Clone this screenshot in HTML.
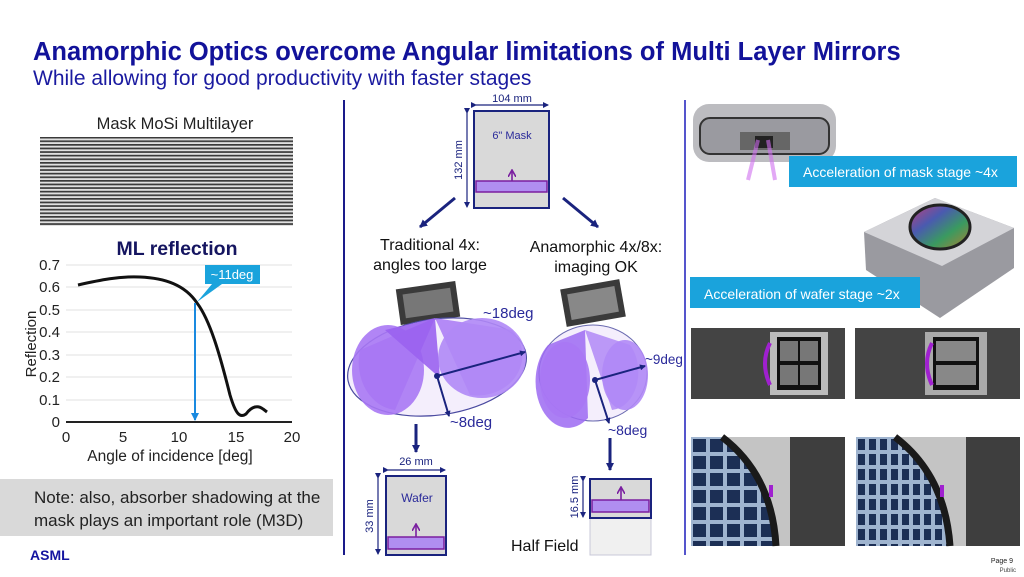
<!DOCTYPE html>
<html><head><meta charset="utf-8"><style>
html,body{margin:0;padding:0;background:#fff;}
svg{display:block;font-family:"Liberation Sans",Arial,sans-serif;}
</style></head><body>
<svg width="1024" height="577" viewBox="0 0 1024 577" xmlns="http://www.w3.org/2000/svg">
<defs>
<pattern id="stripes" width="4" height="3.6" patternUnits="userSpaceOnUse">
<rect width="4" height="3.6" fill="#e0e0e0"/><rect y="0" width="4" height="1.7" fill="#3a3a3a"/>
</pattern>
<pattern id="grid1" x="691" y="437" width="17" height="17" patternUnits="userSpaceOnUse">
<rect width="17" height="17" fill="#9fb4cf"/><rect x="2" y="2" width="13" height="13" fill="#1c2f55"/>
</pattern>
<pattern id="grid2" x="856" y="437" width="11" height="15" patternUnits="userSpaceOnUse">
<rect width="11" height="15" fill="#9fb4cf"/><rect x="2" y="2" width="7" height="11" fill="#1c2f55"/>
</pattern>
<linearGradient id="rain" x1="0" y1="0" x2="1" y2="1">
<stop offset="0" stop-color="#c0407a"/><stop offset=".35" stop-color="#4a5ab0"/><stop offset=".65" stop-color="#3a9a60"/><stop offset="1" stop-color="#b08030"/>
</linearGradient>
<marker id="ah" markerWidth="8" markerHeight="8" refX="7" refY="4" orient="auto" markerUnits="userSpaceOnUse"><path d="M0,0 L8,4 L0,8 Z" fill="#1a237e"/></marker>
<marker id="ahb" markerWidth="8" markerHeight="8" refX="7" refY="4" orient="auto" markerUnits="userSpaceOnUse"><path d="M0,0 L8,4 L0,8 Z" fill="#1a8ae0"/></marker>
<marker id="ahp" markerWidth="8" markerHeight="8" refX="6" refY="4" orient="auto" markerUnits="userSpaceOnUse"><path d="M0,0 L7,4 L0,8" fill="none" stroke="#7a1fa0" stroke-width="1.6"/></marker>
<marker id="ahs" markerWidth="6" markerHeight="6" refX="5" refY="3" orient="auto" markerUnits="userSpaceOnUse"><path d="M0,0 L6,3 L0,6 Z" fill="#1a237e"/></marker>
</defs>

<!-- Title -->
<text x="33" y="60" font-size="25.5" font-weight="bold" fill="#12129a">Anamorphic Optics overcome Angular limitations of Multi Layer Mirrors</text>
<text x="33" y="85" font-size="21" fill="#1a1aa0">While allowing for good productivity with faster stages</text>

<!-- Left panel -->
<text x="175" y="129" font-size="16.5" text-anchor="middle" fill="#222">Mask MoSi Multilayer</text>
<rect x="40" y="137" width="253" height="89" fill="url(#stripes)"/>
<text x="177" y="255" font-size="19.5" font-weight="bold" text-anchor="middle" fill="#151560">ML reflection</text>
<g stroke="#e2e2e2" stroke-width="1">
<line x1="66" y1="265" x2="292" y2="265"/><line x1="66" y1="287" x2="292" y2="287"/><line x1="66" y1="310" x2="292" y2="310"/>
<line x1="66" y1="332" x2="292" y2="332"/><line x1="66" y1="355" x2="292" y2="355"/><line x1="66" y1="377" x2="292" y2="377"/><line x1="66" y1="400" x2="292" y2="400"/>
</g>
<line x1="66" y1="422" x2="292" y2="422" stroke="#222" stroke-width="2"/>
<g font-size="15" fill="#222" text-anchor="end">
<text x="60" y="270">0.7</text><text x="60" y="292">0.6</text><text x="60" y="315">0.5</text><text x="60" y="337">0.4</text>
<text x="60" y="360">0.3</text><text x="60" y="382">0.2</text><text x="60" y="405">0.1</text><text x="60" y="427">0</text>
</g>
<g font-size="15" fill="#222" text-anchor="middle">
<text x="66" y="442">0</text><text x="123" y="442">5</text><text x="179" y="442">10</text><text x="236" y="442">15</text><text x="292" y="442">20</text>
</g>
<text x="170" y="461" font-size="15.5" text-anchor="middle" fill="#222">Angle of incidence [deg]</text>
<text x="36" y="344" font-size="15" text-anchor="middle" fill="#222" transform="rotate(-90 36 344)">Reflection</text>
<path d="M78,285 C100,280 120,276 140,277 C165,278 185,285 197,303 C210,320 220,355 230,395 C236,415 240,418 246,414 C252,406 258,405 263,409 L267,412" fill="none" stroke="#111" stroke-width="3"/>
<line x1="195" y1="303" x2="195" y2="420" stroke="#1a8ae0" stroke-width="2" marker-end="url(#ahb)"/>
<path d="M205,265 L260,265 L260,284 L222,284 L197,302 L212,284 L205,284 Z" fill="#1aa3dc"/>
<text x="232" y="279" font-size="13" fill="#fff" text-anchor="middle">~11deg</text>

<rect x="0" y="479" width="333" height="57" fill="#d9d9d9"/>
<text x="34" y="503" font-size="17" fill="#222">Note: also, absorber shadowing at the</text>
<text x="34" y="526" font-size="17" fill="#222">mask plays an important role (M3D)</text>
<text x="30" y="560" font-size="14" font-weight="900" fill="#1414a0">ASML</text>

<!-- dividers -->
<line x1="344" y1="100" x2="344" y2="555" stroke="#1a1a8a" stroke-width="2"/>
<line x1="685" y1="100" x2="685" y2="555" stroke="#5555cc" stroke-width="2"/>

<!-- Center: mask -->
<text x="512" y="102" font-size="11" text-anchor="middle" fill="#1a237e">104 mm</text>
<line x1="476" y1="105" x2="548" y2="105" stroke="#1a237e" stroke-width="1.2" marker-start="url(#ahs)" marker-end="url(#ahs)"/>
<line x1="467" y1="113" x2="467" y2="207" stroke="#1a237e" stroke-width="1.2" marker-start="url(#ahs)" marker-end="url(#ahs)"/>
<text x="462" y="160" font-size="11" text-anchor="middle" fill="#1a237e" transform="rotate(-90 462 160)">132 mm</text>
<rect x="474" y="111" width="75" height="97" fill="#d9d9d9" stroke="#1a237e" stroke-width="2"/>
<text x="512" y="139" font-size="11" text-anchor="middle" fill="#2a2a9a">6" Mask</text>
<rect x="476" y="181" width="71" height="11" fill="#b08ef0" stroke="#7a1fa0" stroke-width="1.5"/>
<line x1="512" y1="181" x2="512" y2="171" stroke="#7a1fa0" stroke-width="1.6" marker-end="url(#ahp)"/>

<line x1="455" y1="198" x2="420" y2="227" stroke="#1a237e" stroke-width="3" marker-end="url(#ah)"/>
<line x1="563" y1="198" x2="598" y2="227" stroke="#1a237e" stroke-width="3" marker-end="url(#ah)"/>
<text x="430" y="250" font-size="16" text-anchor="middle" fill="#111">Traditional 4x:</text>
<text x="430" y="270" font-size="16" text-anchor="middle" fill="#111">angles too large</text>
<text x="596" y="252" font-size="16" text-anchor="middle" fill="#111">Anamorphic 4x/8x:</text>
<text x="596" y="272" font-size="16" text-anchor="middle" fill="#111">imaging OK</text>

<!-- left cones -->
<rect x="398" y="285" width="60" height="36" fill="#3a3a3a" transform="rotate(-8 428 303)"/>
<rect x="404" y="291" width="48" height="24" fill="#777" transform="rotate(-8 428 303)"/>
<ellipse cx="437" cy="367" rx="90" ry="48" transform="rotate(-8 437 367)" fill="#f4eefc" stroke="#4a4aa0" stroke-width="1.2"/>
<path d="M435,318 L360,350 A40,48 0 0 0 395,410 Z" fill="#9c6af2" opacity=".85"/>
<ellipse cx="388" cy="370" rx="36" ry="45" fill="#a878f4" opacity=".9"/>
<path d="M435,318 L512,330 A45,40 0 0 1 470,395 Z" fill="#a878f4" opacity=".85"/>
<ellipse cx="482" cy="358" rx="44" ry="40" fill="#b088f6" opacity=".9"/>
<path d="M435,318 L385,330 L440,378 Z" fill="#9a62f0" opacity=".9"/>
<line x1="437" y1="376" x2="525" y2="352" stroke="#1a237e" stroke-width="2" marker-end="url(#ahs)"/>
<line x1="437" y1="376" x2="449" y2="416" stroke="#1a237e" stroke-width="2" marker-end="url(#ahs)"/>
<circle cx="437" cy="376" r="3" fill="#1a237e"/>
<text x="483" y="318" font-size="15" fill="#2a2a9a">~18deg</text>
<text x="450" y="427" font-size="15" fill="#2a2a9a">~8deg</text>

<!-- right cones -->
<rect x="563" y="284" width="60" height="38" fill="#3a3a3a" transform="rotate(-10 593 303)"/>
<rect x="569" y="290" width="48" height="26" fill="#888" transform="rotate(-10 593 303)"/>
<ellipse cx="593" cy="373" rx="54" ry="48" fill="#f4eefc" stroke="#6a6ab0" stroke-width="1"/>
<path d="M585,330 L548,345 A28,40 0 0 0 588,418 Z" fill="#9c6af2" opacity=".85"/>
<ellipse cx="565" cy="380" rx="25" ry="38" fill="#a878f4" opacity=".9"/>
<path d="M585,330 L630,345 A28,38 0 0 1 612,410 Z" fill="#b088f6" opacity=".85"/>
<ellipse cx="625" cy="375" rx="23" ry="35" fill="#b088f6" opacity=".9"/>
<line x1="595" y1="380" x2="645" y2="366" stroke="#1a237e" stroke-width="2" marker-end="url(#ahs)"/>
<line x1="595" y1="380" x2="609" y2="423" stroke="#1a237e" stroke-width="2" marker-end="url(#ahs)"/>
<circle cx="595" cy="380" r="3" fill="#1a237e"/>
<text x="645" y="364" font-size="13.5" fill="#2a2a9a">~9deg</text>
<text x="608" y="435" font-size="14" fill="#2a2a9a">~8deg</text>

<!-- down arrows -->
<line x1="416" y1="424" x2="416" y2="452" stroke="#1a237e" stroke-width="3" marker-end="url(#ah)"/>
<line x1="610" y1="438" x2="610" y2="470" stroke="#1a237e" stroke-width="3" marker-end="url(#ah)"/>

<!-- wafer box -->
<text x="416" y="465" font-size="11" text-anchor="middle" fill="#1a237e">26 mm</text>
<line x1="388" y1="470" x2="445" y2="470" stroke="#1a237e" stroke-width="1.2" marker-start="url(#ahs)" marker-end="url(#ahs)"/>
<line x1="378" y1="478" x2="378" y2="554" stroke="#1a237e" stroke-width="1.2" marker-start="url(#ahs)" marker-end="url(#ahs)"/>
<text x="373" y="516" font-size="11" text-anchor="middle" fill="#1a237e" transform="rotate(-90 373 516)">33 mm</text>
<rect x="386" y="476" width="60" height="79" fill="#d9d9d9" stroke="#1a237e" stroke-width="2"/>
<text x="417" y="502" font-size="12" text-anchor="middle" fill="#2a2a9a">Wafer</text>
<rect x="388" y="537" width="56" height="12" fill="#b08ef0" stroke="#7a1fa0" stroke-width="1.5"/>
<line x1="416" y1="537" x2="416" y2="525" stroke="#7a1fa0" stroke-width="1.6" marker-end="url(#ahp)"/>

<!-- half field -->
<rect x="590" y="518" width="61" height="37" fill="#f0f0f0" stroke="#c8c8d8" stroke-width="1"/>
<rect x="590" y="479" width="61" height="39" fill="#d9d9d9" stroke="#1a237e" stroke-width="2"/>
<rect x="592" y="500" width="57" height="12" fill="#b08ef0" stroke="#7a1fa0" stroke-width="1.5"/>
<line x1="621" y1="500" x2="621" y2="488" stroke="#7a1fa0" stroke-width="1.6" marker-end="url(#ahp)"/>
<line x1="583" y1="481" x2="583" y2="517" stroke="#1a237e" stroke-width="1.2" marker-start="url(#ahs)" marker-end="url(#ahs)"/>
<text x="578" y="497" font-size="11" text-anchor="middle" fill="#1a237e" transform="rotate(-90 578 497)">16.5 mm</text>
<text x="511" y="551" font-size="16" fill="#111">Half Field</text>

<!-- right: mask stage -->
<rect x="693" y="104" width="143" height="58" rx="16" fill="#bcbcc0"/>
<rect x="700" y="118" width="129" height="36" rx="10" fill="#9a9aa0" stroke="#333" stroke-width="2"/>
<rect x="740" y="132" width="50" height="18" fill="#666"/>
<rect x="755" y="136" width="18" height="12" fill="#222"/>
<path d="M758,140 L748,180 M768,140 L775,180" stroke="#d070f0" stroke-width="4" opacity=".6"/>
<rect x="789" y="156" width="228" height="31" fill="#1aa3dc"/>
<text x="803" y="177" font-size="14" fill="#fff">Acceleration of mask stage ~4x</text>

<!-- wafer stage -->
<path d="M864,232 L935,198 L1014,228 L1014,268 L940,318 L866,270 Z" fill="#9a9aa0"/>
<path d="M864,232 L935,198 L1014,228 L942,266 Z" fill="#d4d4d8"/>
<ellipse cx="940" cy="227" rx="30" ry="22" fill="url(#rain)" stroke="#222" stroke-width="3"/>
<rect x="690" y="277" width="230" height="31" fill="#1aa3dc"/>
<text x="704" y="299" font-size="14" fill="#fff">Acceleration of wafer stage ~2x</text>

<!-- top image panels -->
<rect x="691" y="328" width="154" height="71" fill="#444"/>
<rect x="770" y="332" width="58" height="63" fill="#bbb"/>
<rect x="777" y="337" width="44" height="53" fill="#111"/>
<g fill="#777"><rect x="780" y="341" width="18" height="20"/><rect x="800" y="341" width="18" height="20"/><rect x="780" y="365" width="18" height="20"/><rect x="800" y="365" width="18" height="20"/></g>
<path d="M770,343 Q760,363 770,385" fill="none" stroke="#a020d0" stroke-width="4"/>
<rect x="855" y="328" width="165" height="71" fill="#444"/>
<rect x="925" y="332" width="62" height="63" fill="#aaa"/>
<rect x="933" y="337" width="46" height="53" fill="#111"/>
<g fill="#888"><rect x="936" y="341" width="40" height="20"/><rect x="936" y="365" width="40" height="20"/></g>
<path d="M932,343 Q922,363 932,385" fill="none" stroke="#a020d0" stroke-width="4"/>

<!-- bottom image panels -->
<rect x="691" y="437" width="154" height="109" fill="#c4c4c4"/>
<rect x="790" y="437" width="55" height="109" fill="#3e3e3e"/>
<path d="M691,437 L722,437 Q772,475 776,546 L691,546 Z" fill="url(#grid1)"/>
<path d="M722,437 Q772,475 776,546" fill="none" stroke="#1a1a1a" stroke-width="7"/>
<rect x="769" y="485" width="4" height="12" fill="#a020d0"/>
<rect x="856" y="437" width="164" height="109" fill="#c4c4c4"/>
<rect x="966" y="437" width="54" height="109" fill="#3e3e3e"/>
<path d="M856,437 L895,437 Q945,475 950,546 L856,546 Z" fill="url(#grid2)"/>
<path d="M895,437 Q945,475 950,546" fill="none" stroke="#1a1a1a" stroke-width="7"/>
<rect x="940" y="485" width="4" height="12" fill="#a020d0"/>

<text x="1013" y="563" font-size="7" text-anchor="end" fill="#222">Page 9</text>
<text x="1016" y="572" font-size="6" text-anchor="end" fill="#444">Public</text>
</svg>
</body></html>
